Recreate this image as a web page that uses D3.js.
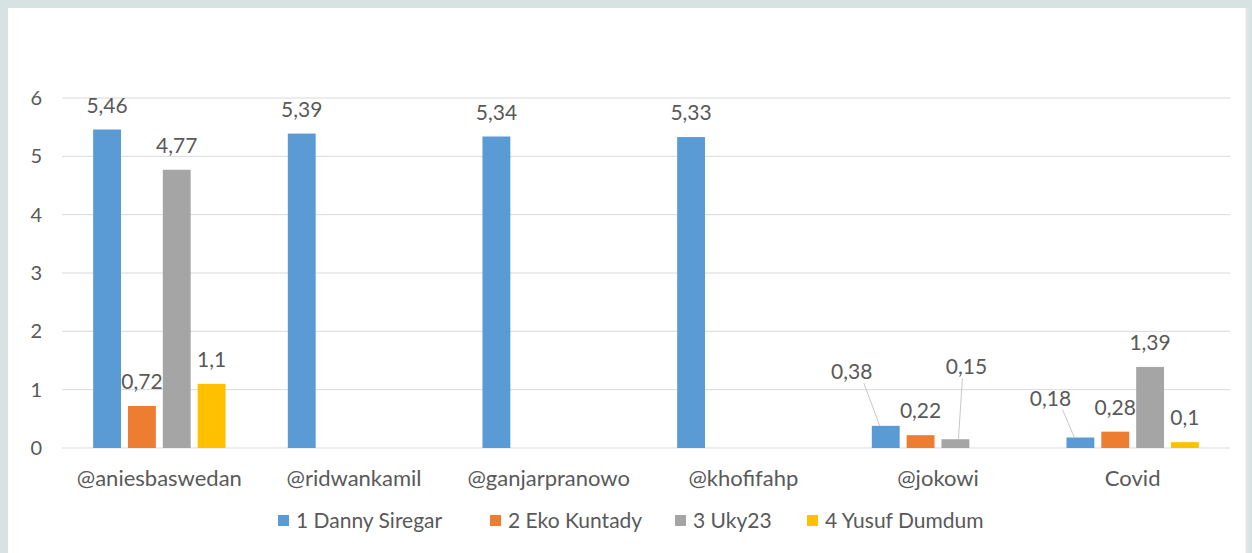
<!DOCTYPE html>
<html lang="en">
<head>
<meta charset="UTF-8"/>
<title>Bar chart</title>
<script src="https://d3js.org/d3.v7.min.js"></script>
<style>
  html, body { margin: 0; padding: 0; background: #d7e3e3; }
  #chart { width: 1252px; height: 553px; }
  text { font-family: Lato, "Open Sans", sans-serif; fill: #595959; }
</style>
</head>
<body>
<div id="chart"></div>
<script>
// chart data
var categories = ["@aniesbaswedan", "@ridwankamil", "@ganjarpranowo", "@khofifahp", "@jokowi", "Covid"];
var seriesNames = ["1 Danny Siregar", "2 Eko Kuntady", "3 Uky23", "4 Yusuf Dumdum"];
var danny  = [5.46, 5.39, 5.34, 5.33, 0.38, 0.18];
var eko    = [0.72, null, null, null, 0.22, 0.28];
var uky    = [4.77, null, null, null, 0.15, 1.39];
var yusuf  = [1.1,  null, null, null, null, 0.1];
var yTicks = [0, 1, 2, 3, 4, 5, 6];

var colors = ["#5b9bd5", "#ed7d31", "#a5a5a5", "#ffc000"];
var allSeries = [danny, eko, uky, yusuf];

var W = 1252, H = 553;
var margin = {top: 98, bottom: 105, left: 62, right: 22};
var w = W - margin.left - margin.right;
var h = H - margin.top - margin.bottom;

var svg = d3.select("#chart").append("svg")
  .attr("width", W).attr("height", H);

// white panel
svg.append("rect")
  .attr("x", 8).attr("y", 8)
  .attr("width", W - 12).attr("height", H - 8)
  .attr("fill", "#ffffff");
svg.append("line")
  .attr("x1", W - 5).attr("x2", W - 5).attr("y1", 8).attr("y2", H)
  .attr("stroke", "#e4e6e6").attr("stroke-width", 3);

var g = svg.append("g")
  .attr("transform", "translate(" + margin.left + "," + margin.top + ")");

var x0 = d3.scaleBand().domain(categories).range([0, w]);
var bw = x0.bandwidth();
var x1 = d3.scaleBand().domain(d3.range(4))
  .range([bw * 0.16, bw * 0.84]).paddingInner(0.2);
var y = d3.scaleLinear().domain([0, 6]).range([h, 0]);

// gridlines
g.selectAll(".grid").data(yTicks).enter().append("line")
  .attr("x1", 0).attr("x2", w)
  .attr("y1", function(d){ return y(d); })
  .attr("y2", function(d){ return y(d); })
  .attr("stroke", "#d9d9d9").attr("stroke-width", 1);

// y axis labels
var yAxis = d3.axisLeft(y).tickValues(yTicks).tickSize(0).tickPadding(20)
  .tickFormat(function(d){ return d; });
var ya = g.append("g").call(yAxis);
ya.select(".domain").remove();
ya.selectAll("text").attr("font-size", 20).style("font-family", "Lato, sans-serif").attr("fill", "#595959");

// x axis labels
var xAxis = d3.axisBottom(x0).tickSize(0).tickPadding(22);
var xa = g.append("g").attr("transform", "translate(0," + h + ")").call(xAxis);
xa.select(".domain").remove();
xa.selectAll("text").attr("font-size", 22).style("font-family", "Lato, sans-serif").attr("fill", "#595959");

// bars
var barData = [];
allSeries.forEach(function(s, si){
  s.forEach(function(v, ci){
    if (v !== null) barData.push({cat: categories[ci], ci: ci, si: si, value: v});
  });
});

g.selectAll(".bar").data(barData).enter().append("rect")
  .attr("x", function(d){ return x0(d.cat) + x1(d.si); })
  .attr("y", function(d){ return y(d.value); })
  .attr("width", x1.bandwidth())
  .attr("height", function(d){ return h - y(d.value); })
  .attr("fill", function(d){ return colors[d.si]; });

// labels that were dragged away from their bar (with leader lines)
var moved = {
  "4|0": [-34, -30],
  "4|2": [11, -48],
  "5|0": [-30, -15]
};

function fmt(v){ return String(v).replace(".", ","); }

barData.forEach(function(d){
  var cx = x0(d.cat) + x1(d.si) + x1.bandwidth() / 2;
  var top = y(d.value);
  var base = top - 17;
  var off = moved[d.ci + "|" + d.si];
  if (off) {
    var lx = cx + off[0], ly = base + off[1];
    g.append("line")
      .attr("x1", lx + (off[0] < 0 ? 12 : -4)).attr("y1", ly + 4)
      .attr("x2", cx + (off[0] < 0 ? -6 : 3)).attr("y2", top)
      .attr("stroke", "#c8c8c8").attr("stroke-width", 1);
    g.append("text").attr("x", lx).attr("y", ly)
      .attr("text-anchor", "middle").attr("font-size", 21)
      .text(fmt(d.value));
  } else {
    g.append("text").attr("x", cx).attr("y", base)
      .attr("text-anchor", "middle").attr("font-size", 21)
      .text(fmt(d.value));
  }
});

// legend
var legendX = [278, 490, 675, 807];
var leg = svg.append("g").attr("transform", "translate(0,521)");
seriesNames.forEach(function(name, i){
  leg.append("rect").attr("x", legendX[i]).attr("y", -6)
    .attr("width", 11).attr("height", 11).attr("fill", colors[i]);
  leg.append("text").attr("x", legendX[i] + 18).attr("y", 7)
    .attr("font-size", 21).text(name);
});
</script>
</body>
</html>
